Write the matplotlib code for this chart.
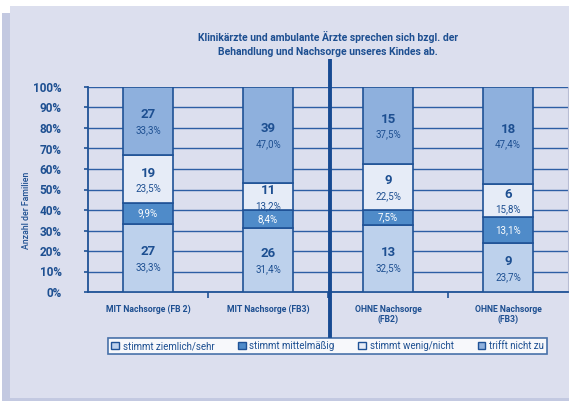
import matplotlib
matplotlib.use("Agg")
import matplotlib.pyplot as plt
import numpy as np
from matplotlib.patches import Rectangle, Patch
from matplotlib.lines import Line2D

plt.rcParams['font.family'] = ['Roboto', 'DejaVu Sans']

# data
groups = ['MIT Nachsorge (FB 2)', 'MIT Nachsorge (FB3)', 'OHNE Nachsorge\n(FB2)', 'OHNE Nachsorge\n(FB3)']
series = ['stimmt ziemlich/sehr', 'stimmt mittelmäßig', 'stimmt wenig/nicht', 'trifft nicht zu']
pct_ziemlich = [33.3, 31.4, 32.5, 23.7]
pct_mittel = [9.9, 8.4, 7.5, 13.1]
pct_wenig = [23.5, 13.2, 22.5, 15.8]
pct_nicht = [33.3, 47.0, 37.5, 47.4]
n_ziemlich = [27, 26, 13, 9]
n_wenig = [19, 11, 9, 6]
n_nicht = [27, 39, 15, 18]
title = 'Klinikärzte und ambulante Ärzte sprechen sich bzgl. der\nBehandlung und Nachsorge unseres Kindes ab.'

colors = ['#bdd1ec', '#4f8bc9', '#e6ecf7', '#8eb0dd']
edge = '#1f5296'
txt = '#1d4f91'
panel = '#dcdfee'
strip = '#c3c9e1'

W, H = 569, 401
fig = plt.figure(figsize=(W / 100, H / 100), dpi=100, facecolor='white')

# background panels (pixel coords -> figure fraction)
def px_rect(x0, y0, x1, y1, color):
    fig.patches.append(Rectangle((x0 / W, 1 - y1 / H), (x1 - x0) / W, (y1 - y0) / H,
                                 transform=fig.transFigure, facecolor=color,
                                 edgecolor='none', zorder=-10))

px_rect(2, 13, 10, 401, strip)
px_rect(2, 398, 569, 401, strip)
px_rect(10, 6, 569, 398, panel)

ax = fig.add_axes([88 / W, 1 - 292 / H, 480 / W, 205 / H])
ax.set_facecolor('none')

x = np.arange(len(groups))
bw = 0.41
segs = [pct_ziemlich, pct_mittel, pct_wenig, pct_nicht]
bottom = np.zeros(len(groups))
for vals, c in zip(segs, colors):
    ax.bar(x, vals, bw, bottom=bottom, color=c, edgecolor=edge, linewidth=1.2, zorder=3)
    bottom += np.array(vals)

def fmt(v):
    return f'{v:.1f}%'.replace('.', ',')

for i in range(len(groups)):
    b0 = 0
    for k, vals in enumerate(segs):
        v = vals[i]
        c = b0 + v / 2
        counts = [n_ziemlich, None, n_wenig, n_nicht][k]
        if counts is None:
            ax.text(i, c, fmt(v), ha='center', va='center', color='white',
                    fontsize=7, zorder=5)
        else:
            ax.annotate(str(counts[i]), (i, c), xytext=(0, 4.5), textcoords='offset points',
                        ha='center', va='center', color=txt, fontsize=9.5,
                        fontweight='bold', zorder=5)
            ax.annotate(fmt(v), (i, c), xytext=(0, -6.5), textcoords='offset points',
                        ha='center', va='center', color=txt, fontsize=7, zorder=5)
        b0 += v

ax.set_xlim(-0.5, 3.5)
ax.set_ylim(0, 100)
ax.set_yticks(np.arange(0, 101, 10))
ax.set_yticklabels([f'{t}%' for t in range(0, 101, 10)], color=txt,
                   fontsize=8.5, fontweight='bold')
ax.yaxis.grid(True, color='#2d5ea4', linewidth=1.0, zorder=1)
ax.set_axisbelow(True)
ax.tick_params(axis='y', length=3, color=edge, width=1.2, pad=16)

ax.set_xticks(x)
ax.set_xticklabels(groups, color=txt, fontsize=6.2, fontweight='bold')
ax.tick_params(axis='x', which='major', length=0, pad=9)
ax.set_xticks([0.5, 1.5, 2.5], minor=True)
ax.tick_params(axis='x', which='minor', length=4, color=edge, width=1.2, direction='out')

ax.spines['top'].set_visible(False)
ax.spines['right'].set_color('#b8bdd4')
ax.spines['left'].set_color(edge)
ax.spines['bottom'].set_color(edge)
ax.spines['left'].set_linewidth(1.3)
ax.spines['bottom'].set_linewidth(1.3)

ax.set_ylabel('Anzahl der Familien', color=txt, fontsize=6.3, fontweight='medium')
ax.yaxis.set_label_coords(-57 / 480, 0.4)

fig.text(328 / W, 1 - 44 / H, title, ha='center', va='center', color=txt,
         fontsize=7.5, fontweight='bold', linespacing=1.6)

# divider line
fig.lines.append(Line2D([330 / W, 330 / W], [1 - 59 / H, 1 - 338 / H],
                        transform=fig.transFigure, color='#174a92', linewidth=2.8,
                        solid_capstyle='butt', zorder=4))

handles = [Patch(facecolor=c, edgecolor=edge, linewidth=1.0) for c in colors]
leg = fig.legend(handles, series, loc='lower left', ncol=4, mode='expand',
                 bbox_to_anchor=(108 / W, 1 - 354 / H, 439 / W, 17 / H),
                 fontsize=7, frameon=True, fancybox=False, borderaxespad=0,
                 handlelength=0.8, handleheight=0.8, handletextpad=0.4,
                 borderpad=0.3, labelcolor=txt)
leg.get_frame().set_edgecolor(edge)
leg.get_frame().set_linewidth(1.2)
leg.get_frame().set_facecolor('white')
leg.set_zorder(5)

fig.savefig('out.png', dpi=100, facecolor=fig.get_facecolor())
